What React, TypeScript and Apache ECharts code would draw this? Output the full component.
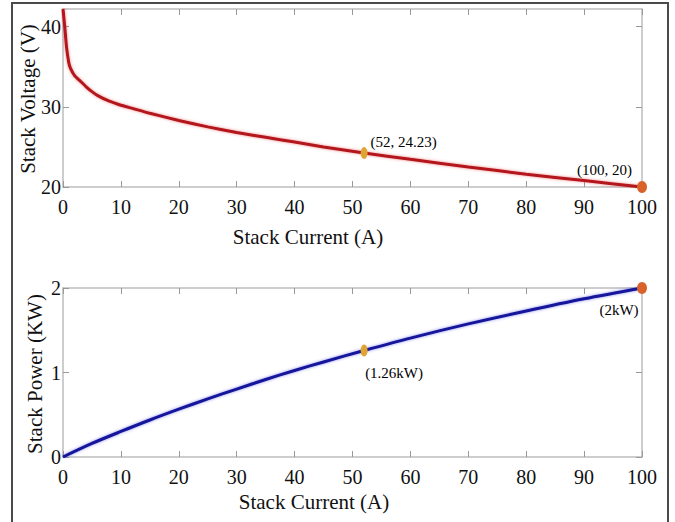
import React, { useEffect, useRef } from "react";
import * as echarts from "echarts";

// Stack current (A) sample points for the polarization curve
const voltCurrent = [0, 0.3, 0.6, 1, 1.3, 2, 3, 4, 5, 6, 8, 10, 12, 15, 20, 25, 30, 35, 40, 45, 52, 60, 70, 80, 90, 100];
// Stack voltage (V)
const voltValues = [42.2, 40.0, 37.5, 35.5, 34.8, 33.9, 33.2, 32.5, 31.9, 31.4, 30.7, 30.2, 29.8, 29.2, 28.3, 27.5, 26.8, 26.2, 25.6, 25.0, 24.23, 23.45, 22.5, 21.6, 20.8, 20.0];

// Stack current (A) sample points for the power curve
const powerCurrent = [0, 5, 10, 15, 20, 25, 30, 35, 40, 45, 52, 60, 70, 80, 90, 100];
// Stack power (kW)
const powerValues = [0, 0.16, 0.302, 0.438, 0.566, 0.688, 0.804, 0.917, 1.024, 1.125, 1.26, 1.407, 1.575, 1.728, 1.872, 2.0];

// Highlighted operating points
const voltMarks = [
  { x: 52, y: 24.23, label: "(52, 24.23)", color: "#e0a531", size: [7, 12] },
  { x: 100, y: 20, label: "(100, 20)", color: "#d9622b", size: [10, 12] },
];
const powerMarks = [
  { x: 52, y: 1.26, label: "(1.26kW)", color: "#e0a531", size: [7, 12] },
  { x: 100, y: 2, label: "(2kW)", color: "#d9622b", size: [10, 12] },
];

const xTicks = [0, 10, 20, 30, 40, 50, 60, 70, 80, 90, 100];
const voltTicks = [20, 30, 40];
const powerTicks = [0, 1, 2];

const FONT = "Liberation Serif";
const AXIS_GRAY = "#bdbdbd";

export default function App() {
  const ref = useRef<HTMLDivElement>(null);

  useEffect(() => {
    if (!ref.current) return;
    const chart = echarts.init(ref.current, null, { renderer: "svg" });

    const grids = [
      { left: 63, top: 9, width: 579, height: 178 },
      { left: 63, top: 288, width: 579, height: 169 },
    ];

    const baseX = (gridIndex: number, position: "bottom" | "top", labels: boolean) => ({
      type: "value",
      gridIndex,
      position,
      min: 0,
      max: 100,
      interval: 10,
      axisLine: { show: true, onZero: false, lineStyle: { color: AXIS_GRAY, width: 1.5 } },
      axisTick: { show: true, inside: true, length: 6, lineStyle: { color: "#999" } },
      axisLabel: {
        show: labels,
        color: "#111",
        fontFamily: FONT,
        fontSize: 20,
        margin: 10,
        customValues: xTicks,
      },
      splitLine: { show: false },
    });

    const baseY = (
      gridIndex: number,
      position: "left" | "right",
      labels: boolean,
      min: number,
      max: number,
      ticks: number[]
    ) => ({
      type: "value",
      gridIndex,
      position,
      min,
      max,
      axisLine: { show: true, onZero: false, lineStyle: { color: AXIS_GRAY, width: 1.5 } },
      axisTick: {
        show: true,
        inside: true,
        length: 6,
        lineStyle: { color: "#999" },
        customValues: ticks,
      },
      axisLabel: {
        show: labels,
        color: "#111",
        fontFamily: FONT,
        fontSize: 20,
        margin: 2,
        customValues: ticks,
      },
      splitLine: { show: false },
    });

    const markSeries = (
      marks: typeof voltMarks,
      xAxisIndex: number,
      yAxisIndex: number,
      labelPos: Array<{ position: string; offset: number[]; align: string }>
    ) =>
      marks.map((m, i) => ({
        type: "scatter",
        xAxisIndex,
        yAxisIndex,
        symbol: "circle",
        symbolSize: m.size,
        z: 5,
        itemStyle: { color: m.color, opacity: 1 },
        label: {
          show: true,
          formatter: m.label,
          position: labelPos[i].position,
          offset: labelPos[i].offset,
          align: labelPos[i].align,
          fontFamily: FONT,
          fontSize: 15,
          color: "#000",
          opacity: 1,
        },
        data: [[m.x, m.y]],
      }));

    const option = {
      animation: false,
      backgroundColor: "#ffffff",
      grid: grids.map((g) => ({ ...g, containLabel: false })),
      xAxis: [
        baseX(0, "bottom", true),
        baseX(0, "top", false),
        baseX(1, "bottom", true),
        baseX(1, "top", false),
      ],
      yAxis: [
        baseY(0, "left", true, 20, 42.2, voltTicks),
        baseY(0, "right", false, 20, 42.2, voltTicks),
        baseY(1, "left", true, 0, 2, powerTicks),
        baseY(1, "right", false, 0, 2, powerTicks),
      ],
      graphic: [
        {
          type: "rect",
          shape: { x: 12, y: 3, width: 656, height: 540 },
          style: { fill: "none", stroke: "#4a4a4a", lineWidth: 2 },
          z: 0,
        },
        {
          type: "text",
          x: 308,
          y: 237,
          style: {
            text: "Stack Current (A)",
            font: `21px "${FONT}"`,
            fill: "#111",
            align: "center",
            verticalAlign: "middle",
          },
        },
        {
          type: "text",
          x: 314,
          y: 502,
          style: {
            text: "Stack Current (A)",
            font: `21px "${FONT}"`,
            fill: "#111",
            align: "center",
            verticalAlign: "middle",
          },
        },
        {
          type: "text",
          x: 28,
          y: 99,
          rotation: Math.PI / 2,
          style: {
            text: "Stack Voltage (V)",
            font: `21px "${FONT}"`,
            fill: "#111",
            align: "center",
            verticalAlign: "middle",
          },
        },
        {
          type: "text",
          x: 35,
          y: 374,
          rotation: Math.PI / 2,
          style: {
            text: "Stack Power (KW)",
            font: `21px "${FONT}"`,
            fill: "#111",
            align: "center",
            verticalAlign: "middle",
          },
        },
      ],
      series: [
        {
          type: "line",
          xAxisIndex: 0,
          yAxisIndex: 0,
          smooth: 0.2,
          symbol: "none",
          lineStyle: { color: "#b3161c", width: 3, shadowColor: "rgba(230,60,60,0.6)", shadowBlur: 3 },
          data: voltCurrent.map((c, i) => [c, voltValues[i]]),
        },
        {
          type: "line",
          xAxisIndex: 2,
          yAxisIndex: 2,
          smooth: 0.3,
          symbol: "none",
          lineStyle: { color: "#12129a", width: 3, shadowColor: "rgba(60,60,230,0.6)", shadowBlur: 3 },
          data: powerCurrent.map((c, i) => [c, powerValues[i]]),
        },
        ...markSeries(voltMarks, 0, 0, [
          { position: "right", offset: [-2, -11], align: "left" },
          { position: "left", offset: [0, -17], align: "right" },
        ]),
        ...markSeries(powerMarks, 2, 2, [
          { position: "bottom", offset: [30, 4], align: "center" },
          { position: "bottom", offset: [-23, 3], align: "center" },
        ]),
      ],
    };

    chart.setOption(option as any);
    return () => chart.dispose();
  }, []);

  return (
    <div
      ref={ref}
      style={{ position: "fixed", left: 0, top: 0, width: 675, height: 522 }}
    />
  );
}
